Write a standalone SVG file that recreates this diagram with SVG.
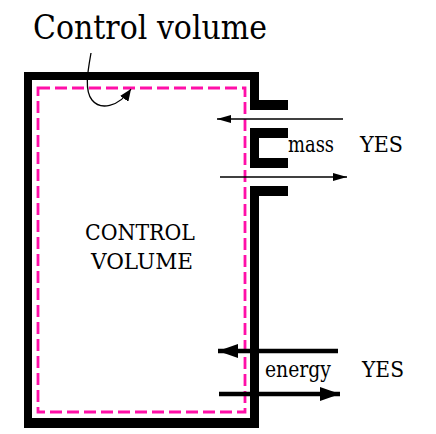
<svg xmlns="http://www.w3.org/2000/svg" width="436" height="434" viewBox="0 0 436 434">
<style>
text{font-family:'DejaVu Serif',serif;fill:#000}
.wall{fill:#000}
.cv{fill:none;stroke:#ff0fa8;stroke-width:2.8;stroke-dasharray:12 5}
.thin{stroke:#000;stroke-width:1.3;fill:none}
.thick{stroke:#000;stroke-width:4.5;fill:none}
</style>
<defs>
<marker id="ah" markerWidth="14" markerHeight="8" refX="14" refY="4" orient="auto" markerUnits="userSpaceOnUse"><path d="M0,0 L14,4 L0,8 Z" fill="#000"/></marker>
<marker id="ahb" markerWidth="20" markerHeight="14" refX="20" refY="7" orient="auto" markerUnits="userSpaceOnUse"><path d="M0,0 L20,7 L0,14 Z" fill="#000"/></marker>
<marker id="ahl" markerWidth="12" markerHeight="10" refX="12" refY="5" orient="auto" markerUnits="userSpaceOnUse"><path d="M0,0 L12,5 L0,10 Z" fill="#000"/></marker>
</defs>
<g id="title"><text x="33" y="39" font-size="34" textLength="234" lengthAdjust="spacingAndGlyphs">Control volume</text></g>
<g id="walls">
<rect class="wall" x="24" y="72" width="8" height="356"/>
<rect class="wall" x="24" y="72" width="235" height="8"/>
<rect class="wall" x="250" y="72" width="9" height="38"/>
<rect class="wall" x="250" y="100" width="38" height="10"/>
<rect class="wall" x="250" y="128" width="9" height="40"/>
<rect class="wall" x="250" y="128" width="38" height="10"/>
<rect class="wall" x="250" y="158" width="38" height="10"/>
<rect class="wall" x="250" y="186" width="38" height="10"/>
<rect class="wall" x="250" y="186" width="9" height="242"/>
<rect class="wall" x="24" y="418" width="235" height="10"/>
</g>
<g id="control-volume"><rect class="cv" x="38" y="88" width="207" height="324"/></g>
<g id="label-cv"><text x="85" y="240" font-size="23" textLength="110" lengthAdjust="spacingAndGlyphs">CONTROL</text><text x="91" y="269" font-size="23" textLength="102" lengthAdjust="spacingAndGlyphs">VOLUME</text></g>
<g id="label-mass"><text x="288" y="152" font-size="22" textLength="46" lengthAdjust="spacingAndGlyphs">mass</text><text x="360" y="152" font-size="22" textLength="43" lengthAdjust="spacingAndGlyphs">YES</text></g>
<g id="label-energy"><text x="265" y="377" font-size="22" textLength="66" lengthAdjust="spacingAndGlyphs">energy</text><text x="362" y="377" font-size="22" textLength="42" lengthAdjust="spacingAndGlyphs">YES</text></g>
<g id="connectors">
<path class="thin" d="M91,53 C88,70 84,90 92,100 C100,110 118,108 131,89" marker-end="url(#ahl)"/>
<line class="thin" x1="343" y1="119" x2="217" y2="119" marker-end="url(#ah)"/>
<line class="thin" x1="220" y1="177" x2="347" y2="177" marker-end="url(#ah)"/>
<line class="thick" x1="338" y1="351" x2="218" y2="351" marker-end="url(#ahb)"/>
<line class="thick" x1="219" y1="394" x2="340" y2="394" marker-end="url(#ahb)"/>
</g>
</svg>
